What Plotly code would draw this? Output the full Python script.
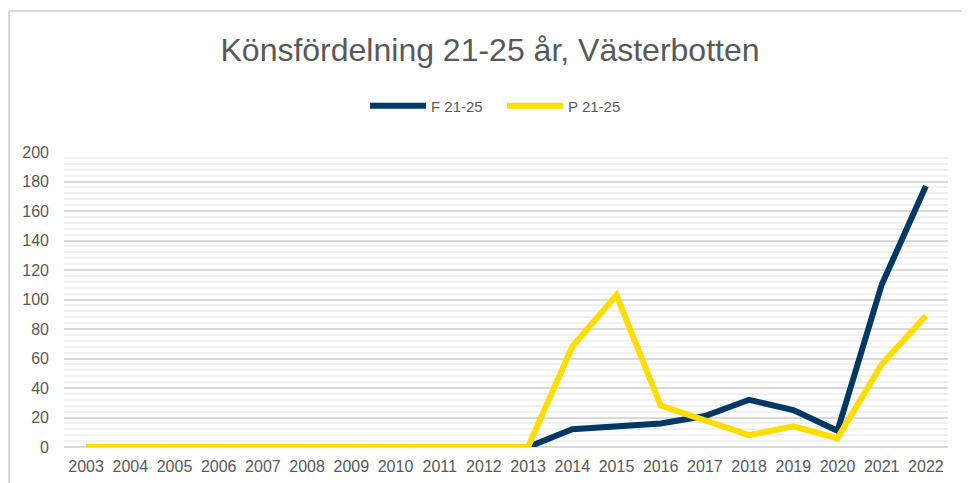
import plotly.graph_objects as go

# =========================================================
# DATA
# =========================================================

YEARS = [str(y) for y in range(2003, 2023)]

F_21_25 = [0, 0, 0, 0, 0, 0, 0, 0, 0, 0, 0,
           12, 14, 16, 21, 32, 25, 11, 110, 177]
P_21_25 = [0, 0, 0, 0, 0, 0, 0, 0, 0, 0, 0,
           68, 103, 28, 18, 8, 14, 6, 56, 89]

TITLE = "Könsfördelning 21-25 år, Västerbotten"
Y_TICKS = list(range(0, 201, 20))

# =========================================================
# STYLE
# =========================================================

NAVY = "#003865"
YELLOW = "#FFDD00"
TEXT = "#595959"
FONT = "Liberation Sans, Arial, sans-serif"

# page body adds an 8px margin, so the figure is sized/offset to fit the window
OFF = 8
W, H = 970 - OFF, 483 - OFF
L, T = 64 - OFF, 152 - OFF
R = W - (948 - OFF)
B = H - (447 - OFF)

# =========================================================
# FIGURE
# =========================================================

fig = go.Figure()

fig.add_trace(go.Scatter(
    x=YEARS, y=F_21_25, name="F 21-25", mode="lines",
    line=dict(color=NAVY, width=6),
))
fig.add_trace(go.Scatter(
    x=YEARS, y=P_21_25, name="P 21-25", mode="lines",
    line=dict(color=YELLOW, width=6),
))

# chart border (top + left edges, rest is cropped out of view)
pw, ph = W - L - R, H - T - B
bx = (1 - L) / pw
by = (H - B - (11 - OFF)) / ph
fig.add_shape(type="line", xref="paper", yref="paper",
              x0=bx, x1=1.2, y0=by, y1=by,
              line=dict(color="#d9d9d9", width=2), layer="below")
fig.add_shape(type="line", xref="paper", yref="paper",
              x0=bx, x1=bx, y0=by, y1=-0.3,
              line=dict(color="#d9d9d9", width=2), layer="below")

fig.update_layout(
    width=W, height=H,
    margin=dict(l=L, r=R, t=T, b=B, autoexpand=False),
    paper_bgcolor="white", plot_bgcolor="white",
    font=dict(family=FONT, color=TEXT, size=15),
    title=dict(text=TITLE, xref="container", x=(490 - OFF) / W, xanchor="center",
               yref="container", y=1 - (50 - OFF) / H, yanchor="middle",
               font=dict(size=32, color=TEXT, family=FONT)),
    legend=dict(orientation="h", xref="container", x=(502 - OFF) / W,
                xanchor="center",
                yref="container", y=1 - (106 - OFF) / H, yanchor="middle",
                font=dict(size=15, color=TEXT), itemwidth=56,
                entrywidth=66, entrywidthmode="pixels",
                bgcolor="rgba(0,0,0,0)"),
    showlegend=True,
)

fig.update_xaxes(
    type="category", range=[-0.5, len(YEARS) - 0.5], automargin=False,
    showgrid=False, showline=False, zeroline=False,
    ticks="", ticklabelstandoff=8, tickfont=dict(size=16, color=TEXT),
)

fig.update_yaxes(
    range=[0, 200], tickvals=Y_TICKS, ticktext=[str(v) for v in Y_TICKS],
    automargin=False,
    showgrid=True, gridcolor="#d9d9d9", gridwidth=1.5,
    minor=dict(dtick=4, showgrid=True, gridcolor="#f0f0f0", gridwidth=1.5),
    zeroline=True, zerolinecolor="#d9d9d9", zerolinewidth=1.5,
    showline=False, ticks="", ticklabelstandoff=14,
    tickfont=dict(size=16, color=TEXT),
)

fig.write_html("out.html")
